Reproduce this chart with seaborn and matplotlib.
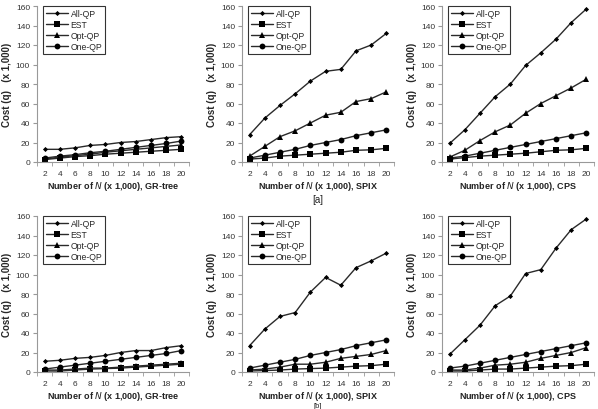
import seaborn as sns
import matplotlib.pyplot as plt
import pandas as pd
from matplotlib.ticker import FixedLocator

# ===================== DATA =====================
n_values = [2, 4, 6, 8, 10, 12, 14, 16, 18, 20]
series_names = ["All-QP", "EST", "Opt-QP", "One-QP"]
indexes = ["GR-tree", "SPIX", "CPS"]

# panel [a]
a_grtree_all = [13, 13, 14.5, 17, 18, 20, 21, 23, 25, 26]
a_grtree_est = [2.5, 4, 5.5, 6.5, 8, 9, 10, 11, 12, 13]
a_grtree_opt = [3, 5, 6.5, 8, 10, 11.5, 13, 14.5, 16, 17.5]
a_grtree_one = [4, 6, 7.5, 9.5, 11, 13, 15, 17, 19, 21.5]

a_spix_all = [28, 45, 58, 70, 83, 93, 95, 114, 120, 132]
a_spix_est = [3, 4, 6, 7, 8, 9, 10, 12, 12.5, 14]
a_spix_opt = [6, 16, 26, 32, 40, 48, 51, 62, 65, 72]
a_spix_one = [4, 7, 10, 13, 17, 20, 23, 27, 30, 33]

a_cps_all = [19, 33, 50, 67, 80, 99, 112, 126, 143, 157]
a_cps_est = [3, 4.5, 6, 7, 8, 9, 10.5, 12, 12.5, 14]
a_cps_opt = [5, 12, 22, 31, 38, 50, 60, 68, 76, 85]
a_cps_one = [4, 6, 9, 12, 15, 18, 21, 24, 27, 30]

# panel [b]
b_grtree_all = [11, 12, 14, 15, 17, 20, 22, 22, 25, 27]
b_grtree_est = [1, 1, 2, 3, 3.5, 4, 5, 6, 7, 8]
b_grtree_opt = [2, 2, 3, 4, 4, 5, 6, 7, 8, 9]
b_grtree_one = [3, 5, 7, 9, 11, 13, 15, 17, 19, 22]

b_spix_all = [27, 44, 57, 61, 82, 97, 89, 107, 114, 122]
b_spix_est = [1, 1.5, 2, 3, 3.5, 4, 5, 6, 6.5, 8]
b_spix_opt = [2, 3, 5, 8, 8, 10, 14, 16, 18, 22]
b_spix_one = [4, 7, 10, 13, 17, 20, 23, 27, 30, 33]

b_cps_all = [18, 33, 48, 68, 78, 101, 105, 127, 146, 157]
b_cps_est = [1, 1, 2, 3, 3, 4, 5, 6, 6.5, 8]
b_cps_opt = [2, 2, 4, 7, 8, 10, 14, 17, 20, 25]
b_cps_one = [4, 6, 9, 12, 15, 18, 21, 24, 27, 30]

panels = {
    ("a", "GR-tree"): [a_grtree_all, a_grtree_est, a_grtree_opt, a_grtree_one],
    ("a", "SPIX"): [a_spix_all, a_spix_est, a_spix_opt, a_spix_one],
    ("a", "CPS"): [a_cps_all, a_cps_est, a_cps_opt, a_cps_one],
    ("b", "GR-tree"): [b_grtree_all, b_grtree_est, b_grtree_opt, b_grtree_one],
    ("b", "SPIX"): [b_spix_all, b_spix_est, b_spix_opt, b_spix_one],
    ("b", "CPS"): [b_cps_all, b_cps_est, b_cps_opt, b_cps_one],
}

# ===================== STYLE =====================
sns.set_style("white")
plt.rcParams["font.family"] = ["Liberation Sans", "DejaVu Sans"]

markers = {"All-QP": "D", "EST": "s", "Opt-QP": "^", "One-QP": "o"}
msizes = {"All-QP": 2.6, "EST": 4.2, "Opt-QP": 4.2, "One-QP": 4.2}
palette = {s: "#2a2a2a" for s in series_names}

fig = plt.figure(figsize=(5.98, 4.10), dpi=100)
W, H = 598, 410

col_left = [37, 242, 442]
ax_w = 152
row_top = [7, 217]
ax_h = 156

for r, part in enumerate(["a", "b"]):
    for c, idx in enumerate(indexes):
        left = col_left[c] / W
        bottom = 1 - (row_top[r] + ax_h) / H
        ax = fig.add_axes([left, bottom, ax_w / W, ax_h / H])

        rows = []
        for name, vals in zip(series_names, panels[(part, idx)]):
            for n, v in zip(n_values, vals):
                rows.append({"N": n, "Cost": v, "Series": name})
        df = pd.DataFrame(rows)

        sns.lineplot(
            data=df, x="N", y="Cost", hue="Series", style="Series",
            hue_order=series_names, style_order=series_names,
            palette=palette, markers=markers, dashes=False,
            linewidth=1.0, markeredgewidth=0, ax=ax, legend=False,
        )
        for line, name in zip(ax.get_lines(), series_names):
            line.set_markersize(msizes[name])
            line.set_markerfacecolor("black")
            line.set_label(name)

        ax.set_xlim(1, 21)
        ax.set_ylim(0, 160)
        ax.set_yticks(range(0, 161, 20))
        ax.set_xticks(n_values)
        ax.xaxis.set_minor_locator(FixedLocator(range(1, 22, 2)))
        ax.tick_params(axis="x", which="major", length=0, labelsize=6, pad=6, colors="#333333")
        ax.tick_params(axis="x", which="minor", length=3, direction="out", bottom=True, color="#999999")
        ax.tick_params(axis="y", length=3, direction="out", left=True, labelsize=6, pad=2,
                       colors="#333333", color="#999999")
        for s in ["top", "right"]:
            ax.spines[s].set_visible(False)
        for s in ["left", "bottom"]:
            ax.spines[s].set_color("#999999")
            ax.spines[s].set_linewidth(0.8)

        ax.set_xlabel("")
        ax.set_ylabel("Cost (q)   (x 1,000)", fontsize=7, fontweight="bold")
        ax.yaxis.set_label_coords(-0.165, 0.5)
        ax.text(0.5, -0.15, f"Number of $\\mathit{{N}}$ (x 1,000), {idx}",
                transform=ax.transAxes, ha="center", va="center", fontsize=6.5,
                fontweight="bold", color="#222222")

        leg = ax.legend(loc="upper left", bbox_to_anchor=(0.04, 1.0), fontsize=6.2,
                        frameon=True, fancybox=False, borderpad=0.3, labelspacing=0.25,
                        handlelength=2.6, handletextpad=0.3, borderaxespad=0)
        leg.get_frame().set_edgecolor("black")
        leg.get_frame().set_linewidth(0.8)

        if c == 1:
            if r == 0:
                ax.text(0.5, -0.235, f"[{part}]", transform=ax.transAxes, ha="center",
                        va="center", fontsize=7, color="#222222")
            else:
                fig.text(ax.get_position().x0 + ax.get_position().width / 2, 0.001,
                         f"[{part}]", ha="center", va="bottom", fontsize=5.5, color="#222222")

fig.savefig("out.png", dpi=100)
